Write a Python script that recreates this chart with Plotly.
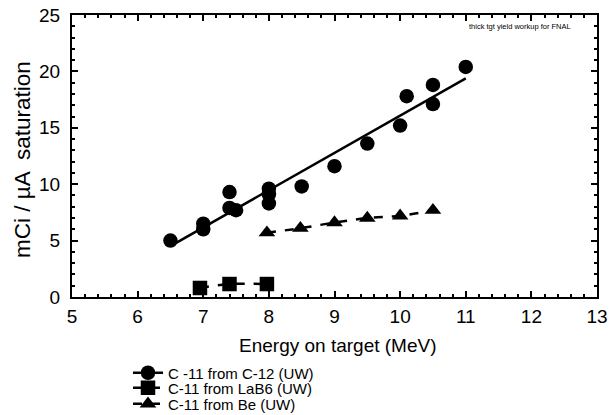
import numpy as np
import plotly.graph_objects as go

# C-11 from C-12 (UW)
c12_x = [6.5, 7.0, 7.0, 7.4, 7.4, 7.5, 8.0, 8.0, 8.0, 8.5, 9.0, 9.5, 10.0, 10.1, 10.5, 10.5, 11.0]
c12_y = [5.0, 6.0, 6.5, 9.3, 7.9, 7.7, 9.6, 9.1, 8.3, 9.8, 11.6, 13.6, 15.2, 17.8, 18.8, 17.1, 20.4]
# C-11 from LaB6 (UW)
lab6_x = [6.95, 7.4, 7.97]
lab6_y = [0.8, 1.15, 1.15]
# C-11 from Be (UW)
be_x = [7.97, 8.48, 9.0, 9.5, 10.0, 10.5]
be_y = [5.7, 6.1, 6.6, 7.0, 7.2, 7.7]

x_ticks = [5, 6, 7, 8, 9, 10, 11, 12, 13]
y_ticks = [0, 5, 10, 15, 20, 25]

FONT = "Liberation Sans, Arial"
W, H = 609, 415
L, R, T, B = 72, 12, 15, 118
PW, PH = W - L - R, H - T - B

# linear fit line for C-12 series
coef = np.polyfit(c12_x, c12_y, 1)
fit_x = [min(c12_x), max(c12_x)]
fit_y = [coef[0] * v + coef[1] for v in fit_x]

fig = go.Figure()
fig.add_trace(go.Scatter(x=fit_x, y=fit_y, mode="lines", line=dict(color="black", width=2.5),
                         showlegend=False, hoverinfo="skip"))
fig.add_trace(go.Scatter(x=c12_x, y=c12_y, mode="markers", name="C -11 from C-12 (UW)",
                         marker=dict(symbol="circle", size=14.5, color="black"),
                         showlegend=False))
fig.add_trace(go.Scatter(x=[None], y=[None], mode="lines+markers", name="C -11 from C-12 (UW)",
                         line=dict(color="black", width=2.5),
                         marker=dict(symbol="circle", size=14.5, color="black"),
                         legend="legend"))
fig.add_trace(go.Scatter(x=lab6_x, y=lab6_y, mode="lines+markers", name="C-11 from LaB6 (UW)",
                         line=dict(color="black", width=2.5, dash="dash", shape="spline"),
                         marker=dict(symbol="square", size=14.5, color="black"),
                         legend="legend2"))
fig.add_trace(go.Scatter(x=be_x, y=be_y, mode="lines+markers", name="C-11 from Be (UW)",
                         line=dict(color="black", width=2.5, dash="dash", shape="spline"),
                         marker=dict(symbol="triangle-up", size=14.5, color="black"),
                         legend="legend3"))

axis_common = dict(showline=True, linecolor="black", linewidth=2, mirror="ticks",
                   ticks="inside", tickcolor="black", tickwidth=2, ticklen=6,
                   showgrid=False, zeroline=False, automargin=False,
                   tickfont=dict(family=FONT, size=19, color="black"))

fig.update_xaxes(range=[5, 13], tickvals=x_ticks, ticktext=[str(v) for v in x_ticks],
                 ticklabelstandoff=1,
                 minor=dict(ticks="inside", dtick=0.2, ticklen=3, tickcolor="black", tickwidth=1.5),
                 **axis_common)
fig.update_yaxes(range=[0, 25], tickvals=y_ticks, ticktext=[str(v) for v in y_ticks],
                 ticklabelstandoff=6,
                 minor=dict(ticks="inside", dtick=1, ticklen=3, tickcolor="black", tickwidth=1.5),
                 **axis_common)

# axis titles
fig.add_annotation(text="Energy on target (MeV)", xref="paper", yref="paper",
                   x=(337 - L) / PW, y=(H - B - 345) / PH, showarrow=False,
                   xanchor="center", yanchor="middle",
                   font=dict(family=FONT, size=19, color="black"))
fig.add_annotation(text="mCi / µA  saturation", xref="paper", yref="paper",
                   x=(22 - L) / PW, y=(H - B - 160) / PH, showarrow=False, textangle=-90,
                   xanchor="center", yanchor="middle",
                   font=dict(family=FONT, size=22.5, color="black"))

fig.add_annotation(text="thick tgt yield workup for FNAL", xref="paper", yref="paper",
                   x=(520 - L) / PW, y=(H - B - 27) / PH, showarrow=False,
                   xanchor="center", yanchor="middle",
                   font=dict(family=FONT, size=7.5, color="black"))

def leg(row_y):
    return dict(x=128 / W, y=1 - row_y / H, xref="container", yref="container",
                xanchor="left", yanchor="middle",
                font=dict(family=FONT, size=15, color="black"),
                itemwidth=30, bgcolor="rgba(0,0,0,0)", borderwidth=0)

fig.update_layout(
    width=W, height=H,
    margin=dict(l=L, r=R, t=T, b=B, autoexpand=False),
    paper_bgcolor="white", plot_bgcolor="white",
    legend=leg(373), legend2=leg(388), legend3=leg(404),
    showlegend=True,
)

fig.write_html("out.html", config={"displayModeBar": False},
               post_script="document.body.style.margin='0';document.body.style.padding='0';")
